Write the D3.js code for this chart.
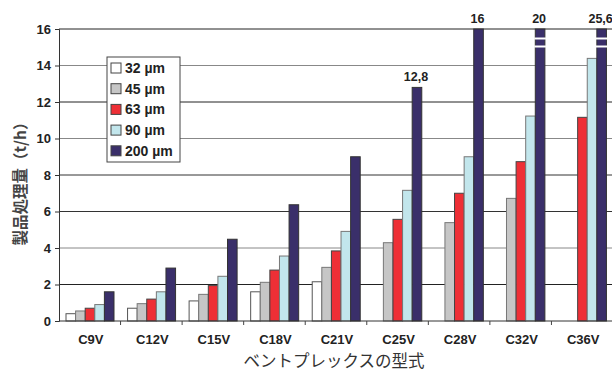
<!DOCTYPE html>
<html>
<head>
<meta charset="utf-8">
<script src="https://cdn.jsdelivr.net/npm/d3@7"></script>
<style>
  body { margin: 0; background: #fff; }
  svg { display: block; font-family: Arial, "Liberation Sans", sans-serif; }
</style>
</head>
<body>
<svg id="chart" width="612" height="372"></svg>
<script>
const categories = ["C9V", "C12V", "C15V", "C18V", "C21V", "C25V", "C28V", "C32V", "C36V"];
const seriesNames = ["32 µm", "45 µm", "63 µm", "90 µm", "200 µm"];
const s32  = [0.4, 0.7, 1.1, 1.6, 2.15, null, null, null, null];
const s45  = [0.55, 0.95, 1.46, 2.12, 2.94, 4.29, 5.39, 6.72, null];
const s63  = [0.7, 1.2, 1.94, 2.79, 3.84, 5.57, 7.0, 8.73, 11.16];
const s90  = [0.9, 1.6, 2.45, 3.56, 4.91, 7.16, 9.0, 11.23, 14.39];
const s200 = [1.6, 2.9, 4.48, 6.37, 9.0, 12.8, 16, 20, 25.6];
const valueLabels = ["", "", "", "", "", "12,8", "16", "20", "25,6"];
const yTicks = [0, 2, 4, 6, 8, 10, 12, 14, 16];

const colors = ["#ffffff", "#c6c6c6", "#ee2f36", "#c2e6ec", "#3a2f6a"];
const strokes = ["#555", "#777", "#444", "#777", "#333"];

function drawChart() {
    const margin = { top: 29, right: 0, bottom: 51, left: 59 },
          width = 612 - margin.left - margin.right,
          height = 372 - margin.top - margin.bottom;
    const plotW = 554;

    const svg = d3.select("#chart").append("g")
        .attr("transform", `translate(${margin.left},${margin.top})`);

    const x = d3.scaleBand().domain(categories).range([0, plotW]).paddingInner(0).paddingOuter(0);
    const x1 = d3.scaleBand().domain(d3.range(5)).range([7, 55]);
    const y = d3.scaleLinear().domain([0, 16]).range([height, 0]).clamp(true);

    // gridlines
    const gridCol = ["#222", "#222", "#888", "#333", "#333", "#888", "#222", "#888", "#222"];
    svg.selectAll(".grid").data(yTicks.slice(1)).enter().append("line")
        .attr("x1", 0).attr("x2", width)
        .attr("y1", d => y(d)).attr("y2", d => y(d))
        .attr("stroke", (d, i) => gridCol[i + 1])
        .attr("stroke-width", 1);

    const series = [s32, s45, s63, s90, s200];
    series.forEach((vals, si) => {
        const data = vals.map((v, i) => ({ cat: categories[i], v: v })).filter(d => d.v != null);
        svg.selectAll(".bar" + si).data(data).enter().append("rect")
            .attr("x", d => x(d.cat) + x1(si))
            .attr("y", d => y(d.v))
            .attr("width", x1.bandwidth())
            .attr("height", d => height - y(d.v))
            .attr("fill", colors[si])
            .attr("stroke", strokes[si])
            .attr("stroke-width", 1);
    });

    // break marks on clipped bars
    const clipped = s200.map((v, i) => ({ cat: categories[i], v: v })).filter(d => d.v > 16);
    [8.5, 16.5].forEach(off => {
        svg.selectAll(null).data(clipped).enter().append("rect")
            .attr("x", d => x(d.cat) + x1(4) - 1)
            .attr("y", off)
            .attr("width", x1.bandwidth() + 2)
            .attr("height", 2)
            .attr("fill", "#fff");
    });

    // value labels
    svg.selectAll(".vlab").data(categories).enter().append("text")
        .attr("x", d => x(d) + x1(4) + x1.bandwidth() / 2 - 1)
        .attr("y", (d, i) => y(s200[i]) - 6)
        .attr("text-anchor", "middle")
        .attr("font-size", 12.5).attr("font-weight", "bold").attr("fill", "#222")
        .text((d, i) => valueLabels[i]);

    // y axis
    const yAxis = d3.axisLeft(y).tickValues(yTicks).tickSize(4).tickPadding(4);
    const ga = svg.append("g").call(yAxis);
    ga.select(".domain").attr("stroke", "#333");
    ga.selectAll(".tick line").attr("stroke", "#333");
    ga.selectAll("text").attr("font-size", 13).attr("font-weight", "bold").attr("fill", "#222")
        .attr("font-family", "Arial, 'Liberation Sans', sans-serif");

    // x axis
    const gx = svg.append("g").attr("transform", `translate(0,${height})`);
    gx.append("line").attr("x1", 0).attr("x2", width).attr("stroke", "#333");
    gx.selectAll(".xt").data(d3.range(1, categories.length)).enter().append("line")
        .attr("x1", d => d * x.bandwidth()).attr("x2", d => d * x.bandwidth())
        .attr("y1", 0).attr("y2", 4).attr("stroke", "#444");
    gx.selectAll(".xl").data(categories).enter().append("text")
        .attr("x", d => x(d) + x.bandwidth() / 2 + 1)
        .attr("y", 23)
        .attr("text-anchor", "middle")
        .attr("font-size", 13).attr("font-weight", "bold").attr("fill", "#222")
        .text(d => d);

    // axis titles
    svg.append("text")
        .attr("x", plotW / 2 - 2).attr("y", height + 46)
        .attr("text-anchor", "middle")
        .attr("font-size", 16.5).attr("fill", "#333")
        .attr("font-family", "'Noto Sans CJK JP', sans-serif")
        .text("ベントプレックスの型式");
    svg.append("text")
        .attr("transform", `translate(-33,${height / 2 + 5}) rotate(-90)`)
        .attr("text-anchor", "middle")
        .attr("font-size", 15.5).attr("font-weight", "bold").attr("fill", "#444")
        .attr("font-family", "'Noto Sans CJK JP', sans-serif")
        .text("製品処理量（t/h）");

    // legend
    const lg = svg.append("g").attr("transform", "translate(48,28)");
    lg.append("rect").attr("width", 73).attr("height", 105)
        .attr("fill", "#fff").attr("stroke", "#444");
    seriesNames.forEach((n, i) => {
        lg.append("rect").attr("x", 4).attr("y", 6 + i * 20.7)
            .attr("width", 10).attr("height", 10)
            .attr("fill", colors[i]).attr("stroke", "#444");
        lg.append("text").attr("x", 18).attr("y", 16 + i * 20.7)
            .attr("font-size", 14).attr("font-weight", "bold").attr("fill", "#222")
            .text(n);
    });
}
drawChart();
</script>
</body>
</html>
